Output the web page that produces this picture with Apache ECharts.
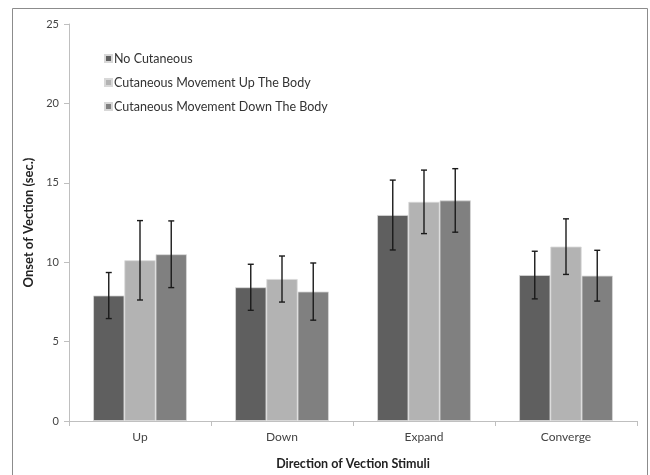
<!DOCTYPE html>
<html>
<head>
<meta charset="utf-8">
<script src="https://cdn.jsdelivr.net/npm/echarts@6/dist/echarts.min.js"></script>
<style>
  html, body { margin: 0; padding: 0; background: #fff; }
  #chart { width: 650px; height: 475px; }
</style>
</head>
<body>
<div id="chart"></div>
<script>
// Onset of vection by stimulus direction and cutaneous condition
const categories = ['Up', 'Down', 'Expand', 'Converge'];
const seriesNames = [
  'No Cutaneous',
  'Cutaneous Movement Up The Body',
  'Cutaneous Movement Down The Body'
];
const noCutaneous = [7.9, 8.42, 12.97, 9.19];
const cutUp = [10.12, 8.94, 13.8, 10.98];
const cutDown = [10.5, 8.15, 13.89, 9.15];
// standard-error half widths
const noCutaneousErr = [1.45, 1.45, 2.2, 1.5];
const cutUpErr = [2.5, 1.45, 2.0, 1.75];
const cutDownErr = [2.1, 1.8, 2.0, 1.6];
const yTicks = [0, 5, 10, 15, 20, 25];

const values = [noCutaneous, cutUp, cutDown];
const errors = [noCutaneousErr, cutUpErr, cutDownErr];
const colors = ['#5f5f5f', '#b3b3b3', '#808080'];
const catGap = 0.34;
const font = 'Lato, "Open Sans", sans-serif';

const chart = echarts.init(document.getElementById('chart'), null, { renderer: 'canvas' });

const barSeries = values.map((vals, i) => ({
  name: seriesNames[i],
  type: 'bar',
  data: vals,
  barGap: '0%',
  barCategoryGap: (catGap * 100) + '%',
  itemStyle: { color: colors[i], borderColor: '#d8d8d8', borderWidth: 0.8 },
  emphasis: { disabled: true },
  z: 2
}));

const errorSeries = values.map((vals, i) => ({
  type: 'custom',
  name: seriesNames[i] + ' error',
  data: vals.map((v, k) => [k, v - errors[i][k], v + errors[i][k]]),
  z: 5,
  silent: true,
  renderItem: function (params, api) {
    const k = api.value(0);
    const lo = api.coord([k, api.value(1)]);
    const hi = api.coord([k, api.value(2)]);
    const band = api.size([1, 0])[0];
    const barW = band * (1 - catGap) / 3;
    const x = lo[0] + (i - 1) * barW;
    const cap = 3;
    const style = { stroke: '#1a1a1a', lineWidth: 1.4 };
    return {
      type: 'group',
      children: [
        { type: 'line', shape: { x1: x, y1: lo[1], x2: x, y2: hi[1] }, style: style },
        { type: 'line', shape: { x1: x - cap, y1: hi[1], x2: x + cap, y2: hi[1] }, style: style },
        { type: 'line', shape: { x1: x - cap, y1: lo[1], x2: x + cap, y2: lo[1] }, style: style }
      ]
    };
  }
}));

chart.setOption({
  animation: false,
  backgroundColor: '#ffffff',
  grid: { left: 69, right: 13, top: 24, bottom: 51, containLabel: false },
  legend: {
    data: seriesNames,
    orient: 'vertical',
    left: 99,
    top: 47,
    itemWidth: 7,
    itemHeight: 7,
    itemGap: 11,
    icon: 'rect',
    textStyle: { fontFamily: font, fontSize: 12.5, color: '#333', padding: [0, 0, 0, -3] }
  },
  xAxis: {
    type: 'category',
    data: categories,
    name: 'Direction of Vection Stimuli',
    nameLocation: 'middle',
    nameGap: 36,
    nameTextStyle: { fontFamily: font, fontSize: 12.5, fontWeight: 'bold', color: '#222' },
    axisLine: { lineStyle: { color: '#bfbfbf', width: 1 } },
    axisTick: { show: true, length: 5, lineStyle: { color: '#bfbfbf' } },
    axisLabel: { fontFamily: font, fontSize: 12, color: '#444', margin: 10 }
  },
  yAxis: {
    type: 'value',
    min: yTicks[0],
    max: yTicks[yTicks.length - 1],
    interval: yTicks[1] - yTicks[0],
    name: 'Onset of Vection (sec.)',
    nameLocation: 'middle',
    nameGap: 33,
    nameRotate: 90,
    nameTextStyle: { fontFamily: font, fontSize: 13, fontWeight: 'bold', color: '#222' },
    axisLine: { show: true, lineStyle: { color: '#bfbfbf', width: 1 } },
    axisTick: { show: true, length: 5, lineStyle: { color: '#bfbfbf' } },
    axisLabel: { fontFamily: font, fontSize: 11, color: '#444', margin: 10 },
    splitLine: { show: false }
  },
  graphic: [{
    type: 'rect',
    silent: true,
    shape: { x: 12.5, y: 8.5, width: 635, height: 480 },
    style: { fill: 'none', stroke: '#8c8c8c', lineWidth: 1 }
  }],
  series: barSeries.concat(errorSeries)
});
</script>
</body>
</html>
